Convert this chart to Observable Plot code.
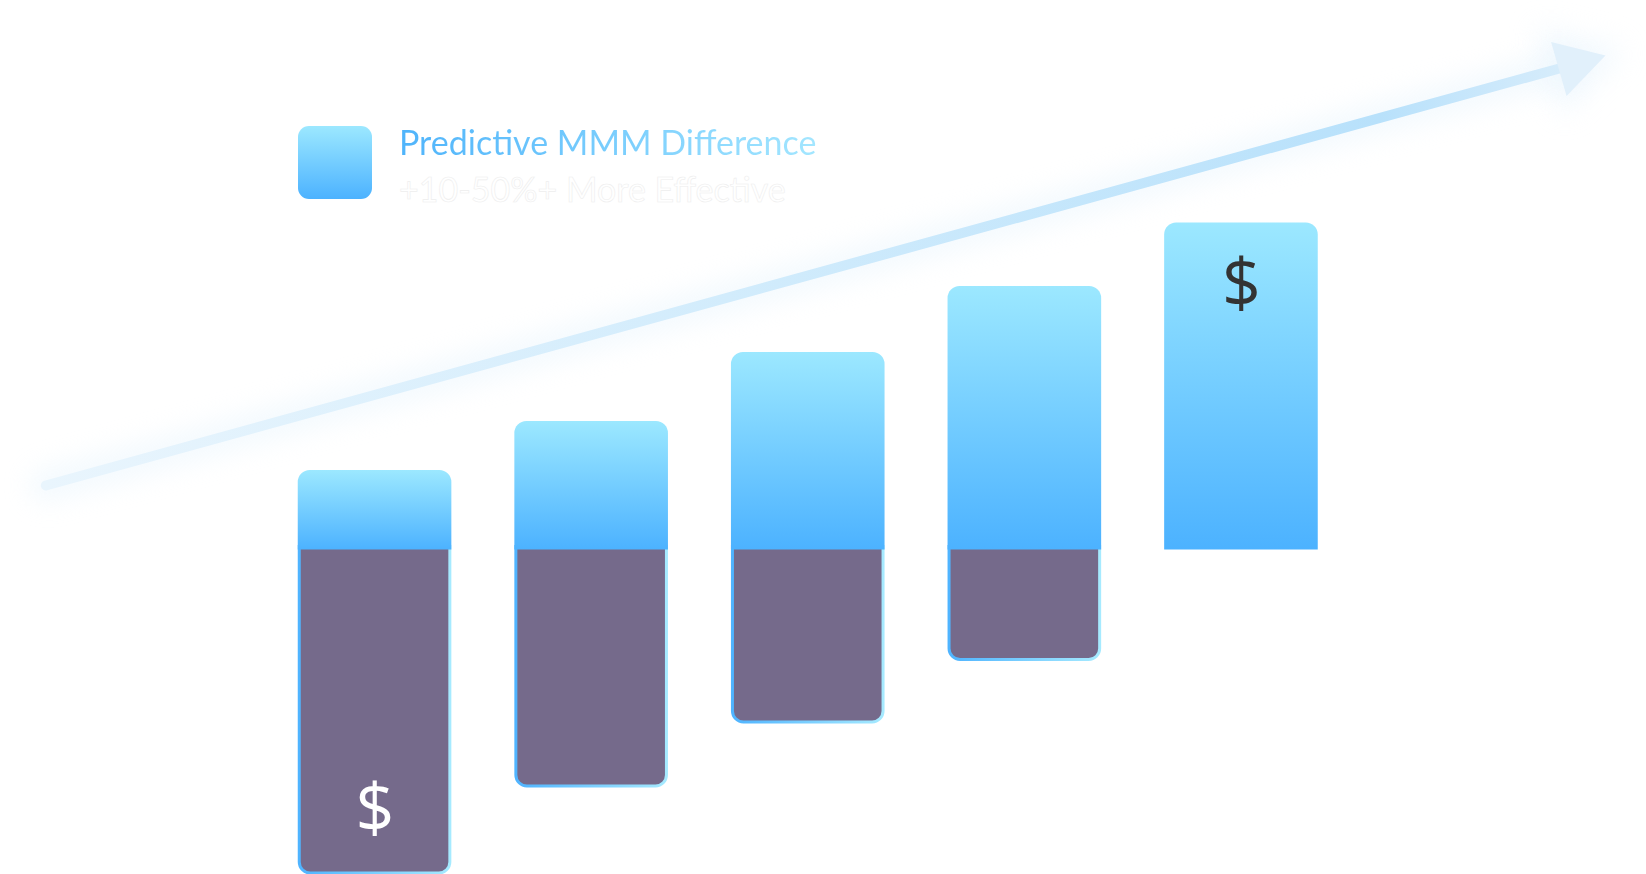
<!DOCTYPE html>
<html>
<head>
<meta charset="utf-8">
<script src="https://cdn.jsdelivr.net/npm/d3@7"></script>
<script src="https://cdn.jsdelivr.net/npm/@observablehq/plot@0.6"></script>
<style>
  html, body { margin: 0; padding: 0; background: #ffffff; }
  #wrap { position: relative; width: 1646px; height: 874px; overflow: hidden; }
  #chart svg { display: block; }
  .legend-swatch {
    position: absolute; left: 298px; top: 126px; width: 74px; height: 73px;
    border-radius: 11px; background: linear-gradient(180deg, #9ce8ff 0%, #4cb2ff 100%);
  }
  .legend-title, .legend-sub {
    position: absolute; left: 399px; font-family: Lato, "Noto Sans", sans-serif;
    font-size: 34px; line-height: 34px; white-space: nowrap; font-weight: 400;
  }
  .legend-title {
    top: 125px;
    background: linear-gradient(90deg, #4fb4fb 0%, #a3e6ff 100%);
    -webkit-background-clip: text; background-clip: text; color: transparent;
  }
  .legend-sub {
    top: 172px; color: #ffffff; -webkit-text-stroke: 0.6px #eeeeee;
  }
</style>
</head>
<body>
<div id="wrap">
  <div id="chart"></div>
  <div class="legend-swatch"></div>
  <div class="legend-title" id="legendTitle"></div>
  <div class="legend-sub" id="legendSub"></div>
</div>
<script>
// ---- data ----
const stages = [1, 2, 3, 4, 5];
const predictiveValues = [79.5, 128.5, 197.5, 263.5, 327];      // blue, above baseline
const traditionalValues = [-323.5, -236.5, -172.5, -110, 0];    // purple, below baseline
const trendX = [-0.52, 6.476];                                  // trend arrow shaft (stage units)
const trendY = [64.5, 482];
const arrowHeadX = [6.537];
const arrowHeadY = [485.5];
const dollarStages = [1, 5];
const dollarValues = [-260, 265];
const dollarColors = ["#ffffff", "#333333"];
const legendTitle = "Predictive MMM Difference";
const legendSub = "+10-50%+ More Effective";

document.getElementById("legendTitle").textContent = legendTitle;
document.getElementById("legendSub").textContent = legendSub;

const bars = stages.map((s, k) => ({stage: s, predictive: predictiveValues[k], traditional: traditionalValues[k]}));
const trend = [{x1: trendX[0], y1: trendY[0], x2: trendX[1], y2: trendY[1]}];
const head = arrowHeadX.map((x, k) => ({x, y: arrowHeadY[k]}));
const dollars = dollarStages.map((s, k) => ({stage: s, value: dollarValues[k], color: dollarColors[k]}));

const plot = Plot.plot({
  width: 1646,
  height: 874,
  marginLeft: 266.25,
  marginRight: 296.75,
  marginTop: 0,
  marginBottom: 0,
  x: {domain: [0.5, 5.5], axis: null},
  y: {domain: [-324.5, 549.5], axis: null},
  marks: [
    // soft glow behind the trend arrow
    Plot.link(trend, {x1: "x1", y1: "y1", x2: "x2", y2: "y2", stroke: "#dff1fd", strokeWidth: 34, strokeOpacity: 0.35, strokeLinecap: "round", imageFilter: "blur(12px)"}),
    Plot.dot(head, {x: "x", y: "y", symbol: "triangle", r: 34, rotate: 74, fill: "#e6f4fd", fillOpacity: 0.5, imageFilter: "blur(14px)"}),
    // trend arrow
    Plot.link(trend, {x1: "x1", y1: "y1", x2: "x2", y2: "y2", stroke: "url(#shaftGrad)", strokeWidth: 10, strokeLinecap: "round"}),
    Plot.dot(head, {x: "x", y: "y", symbol: "triangle", r: 20.8, rotate: 74, fill: "#e1f0fb"}),
    // traditional (purple) bars below the baseline
    Plot.rectY(bars.filter(d => d.traditional < 0), {
      x1: d => d.stage - 0.5, x2: d => d.stage + 0.5, y1: 0, y2: "traditional",
      insetLeft: 33, insetRight: 33, insetTop: -3,
      fill: "#756a8b", stroke: "url(#borderGrad)", strokeWidth: 3, ry2: 11
    }),
    // predictive (blue) bars above the baseline
    Plot.rectY(bars, {
      x1: d => d.stage - 0.5, x2: d => d.stage + 0.5, y1: 0, y2: "predictive",
      insetLeft: 31.5, insetRight: 31.5,
      fill: "url(#blueGrad)", ry2: 12
    }),
    // dollar signs
    Plot.text(dollars, {x: "stage", y: "value", text: () => "$", fill: "color", fontSize: 68, fontFamily: "'Open Sans', 'Noto Sans', sans-serif", textAnchor: "middle", lineAnchor: "middle"})
  ]
});

// gradient definitions
const NS = "http://www.w3.org/2000/svg";
const defs = document.createElementNS(NS, "defs");
function grad(id, x2, y2, stops) {
  const g = document.createElementNS(NS, "linearGradient");
  g.setAttribute("id", id);
  g.setAttribute("x1", "0"); g.setAttribute("y1", "0");
  g.setAttribute("x2", x2); g.setAttribute("y2", y2);
  stops.forEach(([o, c]) => {
    const s = document.createElementNS(NS, "stop");
    s.setAttribute("offset", o); s.setAttribute("stop-color", c);
    g.appendChild(s);
  });
  defs.appendChild(g);
}
grad("blueGrad", "0", "1", [["0%", "#9ce8ff"], ["100%", "#4cb2ff"]]);
grad("borderGrad", "1", "0", [["0%", "#4fb4ff"], ["100%", "#a6eaff"]]);
grad("shaftGrad", "1", "0", [["0%", "#e9f5fd"], ["45%", "#d2ecfc"], ["88%", "#b8e1fb"], ["100%", "#d6ecfb"]]);
plot.insertBefore(defs, plot.firstChild);

document.getElementById("chart").appendChild(plot);
</script>
</body>
</html>
